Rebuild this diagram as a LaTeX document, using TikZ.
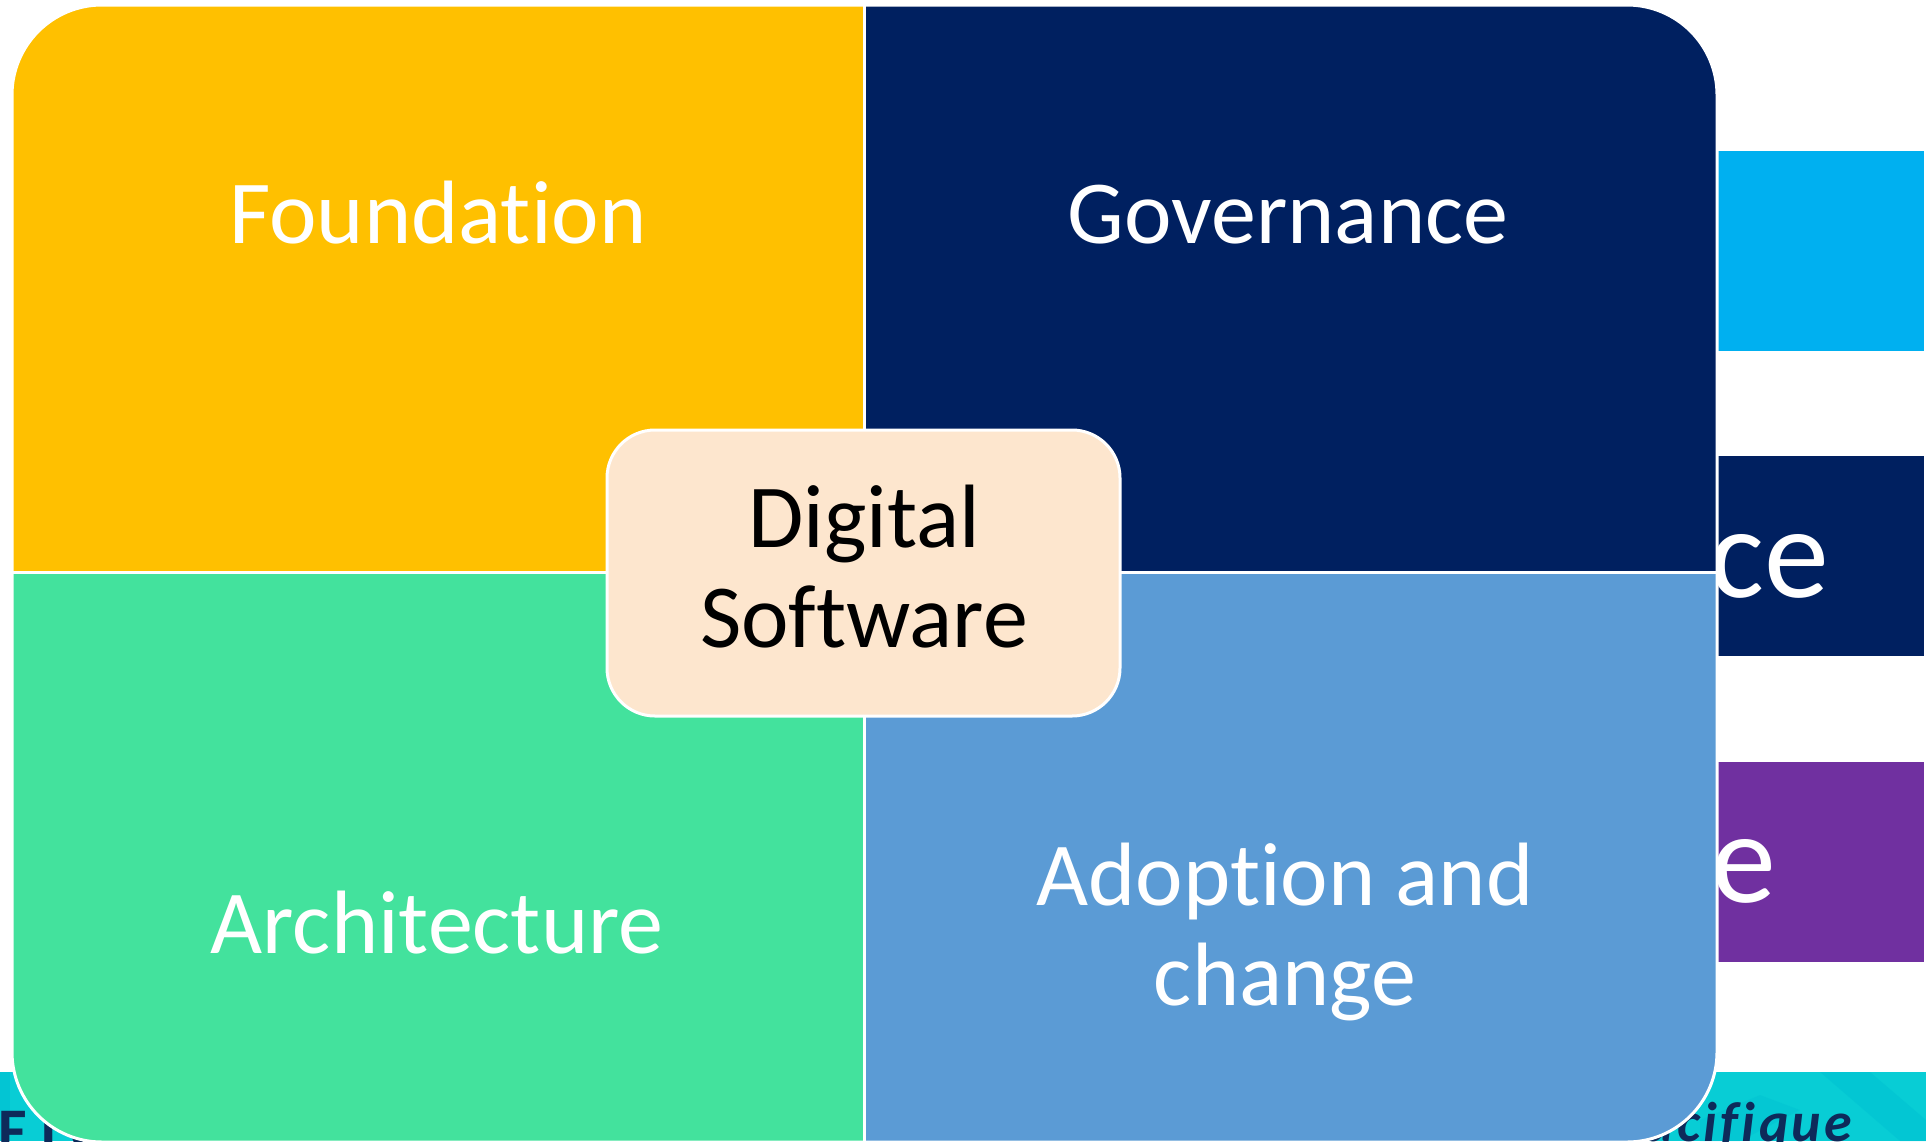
\documentclass[tikz,border=0pt]{standalone}
\usepackage{fontspec}
\setmainfont{Carlito}[Ligatures={NoCommon}]
\definecolor{cYellow}{HTML}{FFC000}
\definecolor{cNavy}{HTML}{002060}
\definecolor{cGreen}{HTML}{43E29D}
\definecolor{cBlue}{HTML}{5B9BD5}
\definecolor{cLightBlue}{HTML}{00B0F0}
\definecolor{cPurple}{HTML}{7030A0}
\definecolor{cPeach}{HTML}{FDE6CE}
\definecolor{cTeal}{HTML}{08CDD5}
\definecolor{cTealDark}{HTML}{00C0D2}
\definecolor{cLogo}{HTML}{0E2A5A}
\tikzset{
  quadlabel/.style={text=white, inner sep=0pt, font=\fontsize{45}{50}\selectfont},
  bigletters/.style={text=white, inner sep=0pt, font=\fontsize{65}{70}\selectfont},
  corebox/.style={draw=white, line width=1.5pt, fill=cPeach, rounded corners=24pt,
    minimum width=256.5pt, minimum height=143pt, inner sep=0pt},
  divider/.style={white, line width=1.5pt},
  logotext/.style={text=cLogo, inner sep=0pt},
}
\begin{document}
\begin{tikzpicture}[x=0.5pt,y=-0.5pt]
\useasboundingbox (0,0) rectangle (1926,1141);
\clip (0,0) rectangle (1926,1141);
% slide pieces behind, on the right
\fill[cLightBlue] (1650,151) rectangle (1924,351);
\fill[cNavy] (1650,456) rectangle (1924,656);
\node[bigletters, anchor=base east] (ce) at (1830,597) {ce};
\fill[cPurple] (1650,762) rectangle (1924,962);
\node[bigletters, anchor=base east] (e) at (1777,902) {e};
% bottom logo strip
\fill[cTeal] (0,1072) rectangle (1926,1141);
\fill[cTealDark, opacity=0.5] (1820,1072) -- (1870,1072) -- (1926,1120) -- (1926,1141) -- (1900,1141) -- cycle;
\fill[cTealDark, opacity=0.4] (1700,1120) -- (1760,1095) -- (1800,1110) -- (1740,1141) -- (1700,1141) -- cycle;
\fill[cTealDark, opacity=0.6] (0,1072) rectangle (10,1141);
\node[logotext, anchor=base west, font=\fontsize{31}{34}\bfseries\addfontfeature{LetterSpace=22}] (fic) at (-2,1151) {FIC};
\node[logotext, anchor=base west, font=\fontsize{28}{30}\bfseries\itshape\addfontfeature{LetterSpace=6}] (acif) at (1644,1141) {acifique};
% main rounded block with four quadrants
\begin{scope}
  \clip[rounded corners=45pt] (12,5) rectangle (1717,1142);
  \fill[cYellow] (0,0) rectangle (864,572);
  \fill[cNavy] (864,0) rectangle (1926,572);
  \fill[cGreen] (0,572) rectangle (864,1160);
  \fill[cBlue] (864,572) rectangle (1926,1160);
\end{scope}
\draw[divider] (864,5) -- (864,1142);
\draw[divider] (12,572) -- (1717,572);
\draw[divider, rounded corners=45pt] (12,5) rectangle (1717,1142);
% quadrant labels
\node[quadlabel, anchor=base] (foundation) at (438,243) {Foundation};
\node[quadlabel, anchor=base] (governance) at (1288,243) {Governance};
\node[quadlabel, anchor=base] (architecture) at (437,953) {Architecture};
\node[quadlabel, align=center] (adoption) at (1285,931.5) {Adoption and\\change};
% centre box
\node[corebox] (core) at (863.5,573) {};
\node[quadlabel, text=black, align=center] (digital) at (864,567) {Digital\\Software};
\end{tikzpicture}
\end{document}
